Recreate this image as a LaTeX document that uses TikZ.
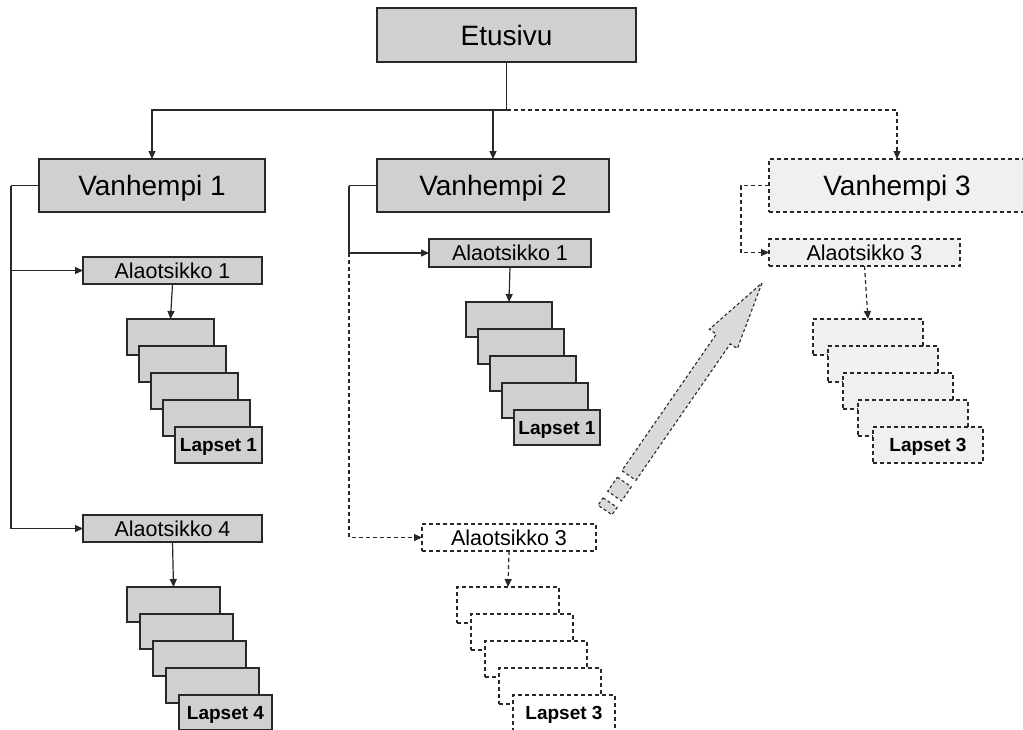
\documentclass[tikz,border=0pt]{standalone}
\usepackage{fontspec}
\setmainfont{Liberation Sans}
\usetikzlibrary{arrows.meta}
\definecolor{boxgray}{RGB}{208,208,208}
\definecolor{boxlight}{RGB}{240,240,240}
\definecolor{arrowgray}{RGB}{218,218,218}
\definecolor{edgecol}{RGB}{40,40,40}
\newcommand\mystack[9]{%
  \foreach \i in {0,...,3}{%
    \node[#8, minimum width=#6pt, minimum height=#7pt, anchor=north west] (#1-\i) at ({#2+\i*#4},{#3+\i*#5}) {};}
  \node[#8, smalltext, minimum width=#6pt, minimum height=#7pt, anchor=north west] (#1-4) at ({#2+4*#4},{#3+4*#5}) {#9};
}
\begin{document}
\begin{tikzpicture}[x=1pt,y=-1pt,
  every node/.style={inner sep=0pt, outer sep=0pt, text depth=0pt},
  solidbox/.style={draw=edgecol, line width=1.4pt, fill=boxgray},
  dashbox/.style={draw=edgecol, line width=1.3pt, dash pattern=on 4pt off 3pt, fill=boxlight},
  dashwhite/.style={dashbox, fill=white},
  bigtext/.style={font=\fontsize{28}{32}\selectfont, text height=20pt},
  midtext/.style={font=\fontsize{21.5}{24}\selectfont, text height=15.4pt},
  smalltext/.style={font=\bfseries\fontsize{19}{22}\selectfont, text height=13.6pt},
  plainconn/.style={draw=edgecol, line width=1.2pt},
  conn/.style={plainconn, -{Triangle[length=8pt,width=7pt]}},
  dashconn/.style={conn, dash pattern=on 4pt off 3pt},
  bigarrow/.style={draw=edgecol, line width=1.1pt, dash pattern=on 3pt off 2.5pt, fill=arrowgray, line join=miter},
]
\useasboundingbox (0,0) rectangle (1023,729);

% main boxes
\node[solidbox,bigtext,minimum width=259pt,minimum height=54pt] (E) at (506.5,35) {Etusivu};
\node[solidbox,bigtext,minimum width=226pt,minimum height=53pt] (V1) at (152,185.5) {Vanhempi 1};
\node[solidbox,bigtext,minimum width=232pt,minimum height=53pt] (V2) at (493,185.5) {Vanhempi 2};
\node[dashbox,bigtext,minimum width=256pt,minimum height=53pt] (V3) at (897,185.5) {Vanhempi 3};

% sub headings
\node[solidbox,midtext,minimum width=179pt,minimum height=27pt] (A1L) at (172.5,270.5) {Alaotsikko 1};
\node[solidbox,midtext,minimum width=179pt,minimum height=27pt] (A4) at (172.5,528.5) {Alaotsikko 4};
\node[solidbox,midtext,minimum width=162pt,minimum height=28pt] (A1M) at (510,253) {Alaotsikko 1};
\node[dashbox,midtext,minimum width=191pt,minimum height=27pt] (A3R) at (864.5,252.5) {Alaotsikko 3};
\node[dashwhite,midtext,minimum width=174pt,minimum height=27pt] (A3B) at (509,537.5) {Alaotsikko 3};

% stacks of children
\mystack{S1}{127}{319}{12}{27}{87}{36}{solidbox}{Lapset 1}
\mystack{S4}{127}{587}{13}{27}{93}{35}{solidbox}{Lapset 4}
\mystack{SM}{466}{302}{12}{27}{86}{35}{solidbox}{Lapset 1}
\mystack{SR}{813}{319}{15}{27}{110}{36}{dashbox}{Lapset 3}
\mystack{SB}{457}{587}{14}{27}{102}{36}{dashwhite}{Lapset 3}

% top-level connectors
\coordinate (J) at (506.5,110);
\draw[plainconn] (E.south) -- (J);
\draw[conn] (J) -| (V1.north);
\draw[conn] (J) -| (V2.north);
\draw[dashconn] (J) -| (V3.north);

% Vanhempi 1 branch
\coordinate (L1) at (11,185.5);
\draw[plainconn] (V1.west) -- (L1);
\draw[conn] (L1) |- (A1L.west);
\draw[conn] (L1) |- (A4.west);

% Vanhempi 2 branch
\coordinate (L2) at (349,185.5);
\draw[plainconn] (V2.west) -- (L2);
\draw[conn] (L2) |- (A1M.west);
\draw[dashconn] (L2 |- A1M.west) |- (A3B.west);

% Vanhempi 3 branch
\coordinate (L3) at (741,185.5);
\draw[dashconn] (V3.west) -- (L3) |- (A3R.west);

% heading to children
\draw[conn] (A1L.south) -- (S1-0.north);
\draw[conn] (A4.south) -- (S4-0.north);
\draw[conn] (A1M.south) -- (SM-0.north);
\draw[dashconn] (A3R.south) -- (SR-0.north);
\draw[dashconn] (A3B.south) -- (SB-0.north);

% big striped arrow
\draw[bigarrow] (762,283) -- (737.3,348.6) -- (730.3,343.8) -- (635.9,480.3) -- (621.9,470.6) -- (716.3,334.1) -- (709.3,329.3) -- cycle;
\draw[bigarrow] (617.4,477.2) -- (631.3,486.9) -- (621.7,500.9) -- (607.7,491.2) -- cycle;
\draw[bigarrow] (603.1,497.8) -- (617.1,507.4) -- (612.0,514.8) -- (598.0,505.2) -- cycle;
\end{tikzpicture}
\end{document}
